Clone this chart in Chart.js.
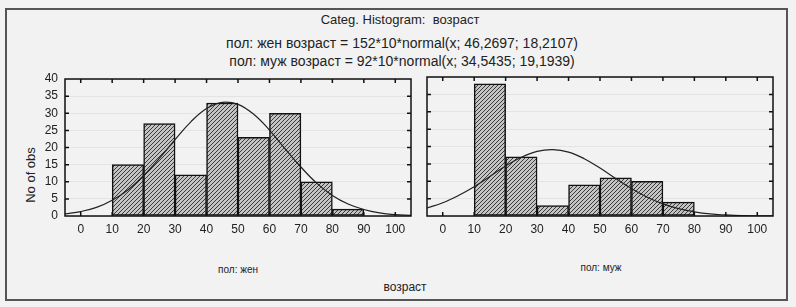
<!DOCTYPE html>
<html>
<head>
<meta charset="utf-8">
<script src="https://cdn.jsdelivr.net/npm/chart.js@4.4.1/dist/chart.umd.min.js"></script>
<style>
  body { margin: 0; background: #f2f2f2; }
  #page { position: relative; width: 796px; height: 307px; overflow: hidden;
          font-family: "Liberation Sans", Arial, sans-serif; color: #222; }
  #frame { position: absolute; left: 5px; top: 8px; width: 779px; height: 289px;
           border: 2px solid #555; }
  .txt { position: absolute; white-space: nowrap; transform: translateX(-50%); }
  .ytitle { position: absolute; white-space: nowrap; font-size: 13px;
            transform: translate(-50%, -50%) rotate(-90deg); }
  canvas { position: absolute; }
</style>
</head>
<body>
<div id="page">
  <div id="frame"></div>
  <div class="txt" style="left:400px; top:12px; font-size:13px;">Categ. Histogram:&nbsp; возраст</div>
  <div class="txt" style="left:402px; top:35px; font-size:14px;">пол: жен возраст = 152*10*normal(x; 46,2697; 18,2107)</div>
  <div class="txt" style="left:402px; top:53px; font-size:14px;">пол: муж возраст = 92*10*normal(x; 34,5435; 19,1939)</div>
  <div class="txt" style="left:238px; top:264px; font-size:10px;">пол: жен</div>
  <div class="txt" style="left:601px; top:262px; font-size:10px;">пол: муж</div>
  <div class="txt" style="left:405px; top:280px; font-size:12px;">возраст</div>
  <div class="ytitle" style="left:30px; top:175px;">No of obs</div>
  <canvas id="leftChart" width="420" height="185" style="left:0; top:60px;"></canvas>
  <canvas id="rightChart" width="381" height="185" style="left:415px; top:60px;"></canvas>
</div>
<script>
// bin centres (width 10)
const binsF = [15, 25, 35, 45, 55, 65, 75, 85];
const countsF = [15, 27, 12, 33, 23, 30, 10, 2];
const binsM = [15, 25, 35, 45, 55, 65, 75];
const countsM = [38, 17, 3, 9, 11, 10, 4];

// fitted normal curve, every 5 years
const curveX = [-5, 0, 5, 10, 15, 20, 25, 30, 35, 40, 45, 50, 55, 60, 65, 70, 75, 80, 85, 90, 95, 100, 105];
const curveF = [0.6, 1.3, 2.5, 4.6, 7.6, 11.8, 16.8, 22.3, 27.5, 31.4, 33.2, 32.6, 29.7, 25.1, 19.6, 14.3, 9.6, 6.0, 3.5, 1.9, 0.9, 0.4, 0.2];
const curveM = [2.3, 3.8, 5.9, 8.4, 11.4, 14.4, 16.9, 18.6, 19.1, 18.4, 16.5, 13.8, 10.8, 7.9, 5.4, 3.5, 2.1, 1.2, 0.6, 0.3, 0.1, 0.05, 0.02];

const xTicks = [0, 10, 20, 30, 40, 50, 60, 70, 80, 90, 100];
const yMax = 40;

function hatch() {
  const c = document.createElement('canvas');
  c.width = 4; c.height = 4;
  const g = c.getContext('2d');
  g.fillStyle = '#c4c4c4';
  g.fillRect(0, 0, 4, 4);
  g.strokeStyle = '#3a3a3a';
  g.lineWidth = 1;
  g.beginPath();
  g.moveTo(0, 4); g.lineTo(4, 0);
  g.moveTo(-1, 1); g.lineTo(1, -1);
  g.moveTo(3, 5); g.lineTo(5, 3);
  g.stroke();
  return g.createPattern(c, 'repeat');
}

// frame + inward tick marks on all four sides
const framePlugin = {
  id: 'frame',
  afterDraw(chart) {
    const { ctx, chartArea: a, scales } = chart;
    ctx.save();
    ctx.strokeStyle = '#111';
    ctx.lineWidth = 1.5;
    ctx.strokeRect(a.left, a.top, a.right - a.left, a.bottom - a.top);
    ctx.beginPath();
    xTicks.forEach(v => {
      const px = scales.x.getPixelForValue(v);
      ctx.moveTo(px, a.top); ctx.lineTo(px, a.top + 4);
      ctx.moveTo(px, a.bottom); ctx.lineTo(px, a.bottom - 4);
    });
    for (let v = 5; v < yMax; v += 5) {
      const py = scales.y.getPixelForValue(v);
      ctx.moveTo(a.left, py); ctx.lineTo(a.left + 4, py);
      ctx.moveTo(a.right, py); ctx.lineTo(a.right - 4, py);
    }
    ctx.stroke();
    ctx.restore();
  }
};

function makeChart(id, bins, counts, curve, opts) {
  const barData = bins.map((x, i) => ({ x: x, y: counts[i] }));
  const lineData = curveX.map((x, i) => ({ x: x, y: curve[i] }));
  return new Chart(document.getElementById(id), {
    type: 'bar',
    plugins: [framePlugin],
    data: {
      datasets: [
        {
          type: 'line',
          data: lineData,
          borderColor: '#222',
          borderWidth: 1.2,
          pointRadius: 0,
          tension: 0.4,
          fill: false,
          order: 0
        },
        {
          data: barData,
          backgroundColor: hatch(),
          borderColor: '#111',
          borderWidth: 1.5,
          borderSkipped: false,
          barPercentage: 1,
          categoryPercentage: 1,
          order: 1
        }
      ]
    },
    options: {
      responsive: false,
      animation: false,
      layout: { padding: opts.padding },
      plugins: { legend: { display: false }, tooltip: { enabled: false } },
      scales: {
        x: {
          type: 'linear',
          min: -5, max: 105,
          offset: false,
          afterBuildTicks: s => { s.ticks = xTicks.map(v => ({ value: v })); },
          afterFit: s => { s.height = 29; },
          grid: { display: false, drawTicks: false },
          border: { display: false },
          ticks: { color: '#222', padding: 6, autoSkip: false, maxRotation: 0,
                   font: { family: 'Liberation Sans', size: 12 } }
        },
        y: {
          min: 0, max: yMax,
          afterFit: s => { s.width = opts.yWidth; },
          grid: { color: 'rgba(0,0,0,0.06)', drawTicks: false },
          border: { display: false },
          ticks: {
            display: opts.yLabels, stepSize: 5, padding: 7, color: '#222', autoSkip: false,
            font: { family: 'Liberation Sans', size: 12 }
          }
        }
      }
    }
  });
}

makeChart('leftChart', binsF, countsF, curveF,
  { padding: { top: 19, right: 9, left: 0, bottom: 0 }, yWidth: 65, yLabels: true });
makeChart('rightChart', binsM, countsM, curveM,
  { padding: { top: 17, right: 23, left: 0, bottom: 0 }, yWidth: 12, yLabels: false });
</script>
</body>
</html>
